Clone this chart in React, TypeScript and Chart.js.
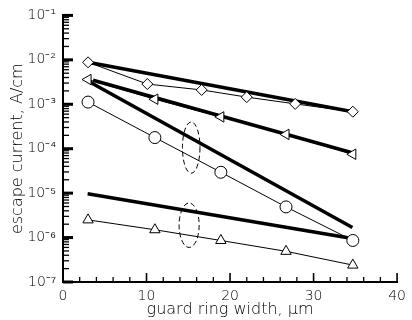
import React, { useEffect, useRef } from 'react';
import { Chart, registerables } from 'chart.js';

Chart.register(...registerables);

// ---- data ----
const diamondX = [3.0, 10.1, 16.6, 22.0, 27.8, 34.7];
const diamondY = [8.8e-3, 2.85e-3, 2.1e-3, 1.45e-3, 1.02e-3, 6.8e-4];

const leftTriX = [3.0, 11.0, 18.9, 26.7, 34.7];
const leftTriY = [3.6e-3, 1.3e-3, 5.2e-4, 2.1e-4, 7.5e-5];

const circleX = [3.0, 11.0, 18.9, 26.7, 34.7];
const circleY = [1.12e-3, 1.78e-4, 2.95e-5, 4.9e-6, 8.6e-7];

const upTriX = [3.0, 11.0, 18.9, 26.7, 34.7];
const upTriY = [2.5e-6, 1.5e-6, 8.6e-7, 4.9e-7, 2.4e-7];

// thick fitted lines
const fitDiamondX = [3.0, 34.7];
const fitDiamondY = [8.8e-3, 6.8e-4];
const fitLeftTriX = [3.6, 34.5];
const fitLeftTriY = [3.48e-3, 8.2e-5];
const fitSteepX = [3.25, 34.65];
const fitSteepY = [3.14e-3, 1.68e-6];
const fitLowX = [2.95, 34.65];
const fitLowY = [9.7e-6, 9.5e-7];

// dashed ellipses grouping the fits (data space)
const ellipseCenterX = [15.35, 15.1];
const ellipseHalfWidthX = [1.05, 1.2];
const ellipseTopY = [4.0e-4, 6.0e-6];
const ellipseBottomY = [2.8e-5, 6.0e-7];

// axes
const xMin = 0;
const xMax = 40;
const xMajorStep = 10;
const xMinorStep = 2;
const yMin = 1e-7;
const yMax = 1e-1;
const supDigits: Record<string, string> = {
  '0': '\u2070', '1': '\u00B9', '2': '\u00B2', '3': '\u00B3', '4': '\u2074',
  '5': '\u2075', '6': '\u2076', '7': '\u2077', '8': '\u2078', '9': '\u2079', '-': '\u207B',
};

const FONT = "'DejaVu Sans', 'Liberation Sans', sans-serif";
const TEXT = '#000';

const toPts = (xs: number[], ys: number[]) => xs.map((x, i) => ({ x, y: ys[i] }));

const inwardTicks = {
  id: 'inwardTicks',
  afterDatasetsDraw(chart: any) {
    const { ctx, chartArea } = chart;
    const x = chart.scales.x;
    const y = chart.scales.y;
    ctx.save();
    ctx.strokeStyle = '#000';
    ctx.lineCap = 'butt';
    const e0 = Math.round(Math.log10(y.min));
    const e1 = Math.round(Math.log10(y.max));
    for (let e = e0; e <= e1; e++) {
      for (let m = 1; m <= 9; m++) {
        if (e === e1 && m > 1) break;
        const py = y.getPixelForValue(m * Math.pow(10, e));
        const major = m === 1;
        ctx.lineWidth = major ? 3 : 1.3;
        ctx.beginPath();
        ctx.moveTo(chartArea.left, py);
        ctx.lineTo(chartArea.left + (major ? 10 : 6), py);
        ctx.stroke();
      }
    }
    for (let v = x.min; v <= x.max + 1e-9; v += xMinorStep) {
      const px = x.getPixelForValue(v);
      const major = Math.abs(v / xMajorStep - Math.round(v / xMajorStep)) < 1e-9;
      ctx.lineWidth = major ? 1.6 : 1.3;
      ctx.beginPath();
      ctx.moveTo(px, chartArea.bottom);
      ctx.lineTo(px, chartArea.bottom - (major ? 9 : 5));
      ctx.stroke();
    }
    ctx.restore();
  },
};

const ellipses = {
  id: 'ellipses',
  afterDatasetsDraw(chart: any) {
    const { ctx } = chart;
    const x = chart.scales.x;
    const y = chart.scales.y;
    ctx.save();
    ctx.strokeStyle = '#000';
    ctx.lineWidth = 1;
    ctx.setLineDash([5, 3]);
    ellipseCenterX.forEach((cxv, i) => {
      const cx = x.getPixelForValue(cxv);
      const rx = Math.abs(x.getPixelForValue(cxv + ellipseHalfWidthX[i]) - cx);
      const t = y.getPixelForValue(ellipseTopY[i]);
      const b = y.getPixelForValue(ellipseBottomY[i]);
      ctx.beginPath();
      ctx.ellipse(cx, (t + b) / 2, rx, Math.abs(b - t) / 2, 0, 0, Math.PI * 2);
      ctx.stroke();
    });
    ctx.restore();
  },
};

export default function App() {
  const ref = useRef<HTMLCanvasElement | null>(null);

  useEffect(() => {
    document.body.style.margin = '0';
    if (!ref.current) return;
    const markerBase = {
      borderColor: '#000',
      backgroundColor: '#000',
      borderWidth: 1,
      pointBackgroundColor: '#fff',
      pointBorderColor: '#000',
      pointBorderWidth: 1,
      fill: false,
      tension: 0,
    };
    const fitBase = {
      borderColor: '#000',
      borderWidth: 3.5,
      pointRadius: 0,
      fill: false,
      tension: 0,
    };
    const chart = new Chart(ref.current, {
      type: 'line',
      data: {
        datasets: [
          { ...markerBase, label: 'diamond', data: toPts(diamondX, diamondY), pointStyle: 'rectRot', pointRadius: 5.5 },
          { ...markerBase, label: 'left triangle', data: toPts(leftTriX, leftTriY), pointStyle: 'triangle', pointRotation: -90, pointRadius: 6 },
          { ...markerBase, label: 'circle', data: toPts(circleX, circleY), pointStyle: 'circle', pointRadius: 6 },
          { ...markerBase, label: 'up triangle', data: toPts(upTriX, upTriY), pointStyle: 'triangle', pointRadius: 6 },
          { ...fitBase, label: 'fit diamond', data: toPts(fitDiamondX, fitDiamondY) },
          { ...fitBase, label: 'fit left triangle', data: toPts(fitLeftTriX, fitLeftTriY) },
          { ...fitBase, label: 'fit steep', data: toPts(fitSteepX, fitSteepY) },
          { ...fitBase, label: 'fit low', data: toPts(fitLowX, fitLowY) },
        ] as any,
      },
      options: {
        animation: false,
        responsive: false,
        layout: { padding: { top: 12, right: 12, left: 0, bottom: 0 } },
        plugins: { legend: { display: false }, tooltip: { enabled: false } },
        scales: {
          x: {
            type: 'linear',
            min: xMin,
            max: xMax,
            ticks: {
              stepSize: xMajorStep,
              color: TEXT,
              font: { family: FONT, size: 14, weight: '200' },
              padding: 6,
              maxRotation: 0,
            },
            grid: { display: false, drawTicks: false, tickLength: 0 },
            border: { display: true, color: '#000', width: 2 },
            title: {
              display: true,
              text: 'guard ring width, \u03BCm',
              color: TEXT,
              font: { family: FONT, size: 16, weight: '200' },
              padding: { top: 0, bottom: 1 },
            },
            afterFit: (s: any) => { s.height = 38; },
          },
          y: {
            type: 'logarithmic',
            min: yMin,
            max: yMax,
            ticks: {
              autoSkip: false,
              color: TEXT,
              font: { family: FONT, size: 14, weight: '200' },
              padding: 7,
              callback: (v: any) => {
                const l = Math.log10(Number(v));
                if (Math.abs(l - Math.round(l)) > 1e-6) return '';
                const s = String(Math.round(l)).split('').map((c) => supDigits[c]).join('');
                return '10' + s;
              },
            },
            grid: { display: false, drawTicks: false, tickLength: 0 },
            border: { display: true, color: '#000', width: 2 },
            title: {
              display: true,
              text: 'escape current, A/cm',
              color: TEXT,
              font: { family: FONT, size: 16, weight: '200' },
              padding: { top: 8, bottom: 0 },
            },
            afterFit: (s: any) => { s.width = 63; },
          },
        },
      } as any,
      plugins: [inwardTicks, ellipses],
    });
    return () => chart.destroy();
  }, []);

  return (
    <div style={{ position: 'absolute', left: 0, top: 0, width: 412, height: 320, background: '#fff' }}>
      <canvas ref={ref} width={412} height={320} />
    </div>
  );
}
